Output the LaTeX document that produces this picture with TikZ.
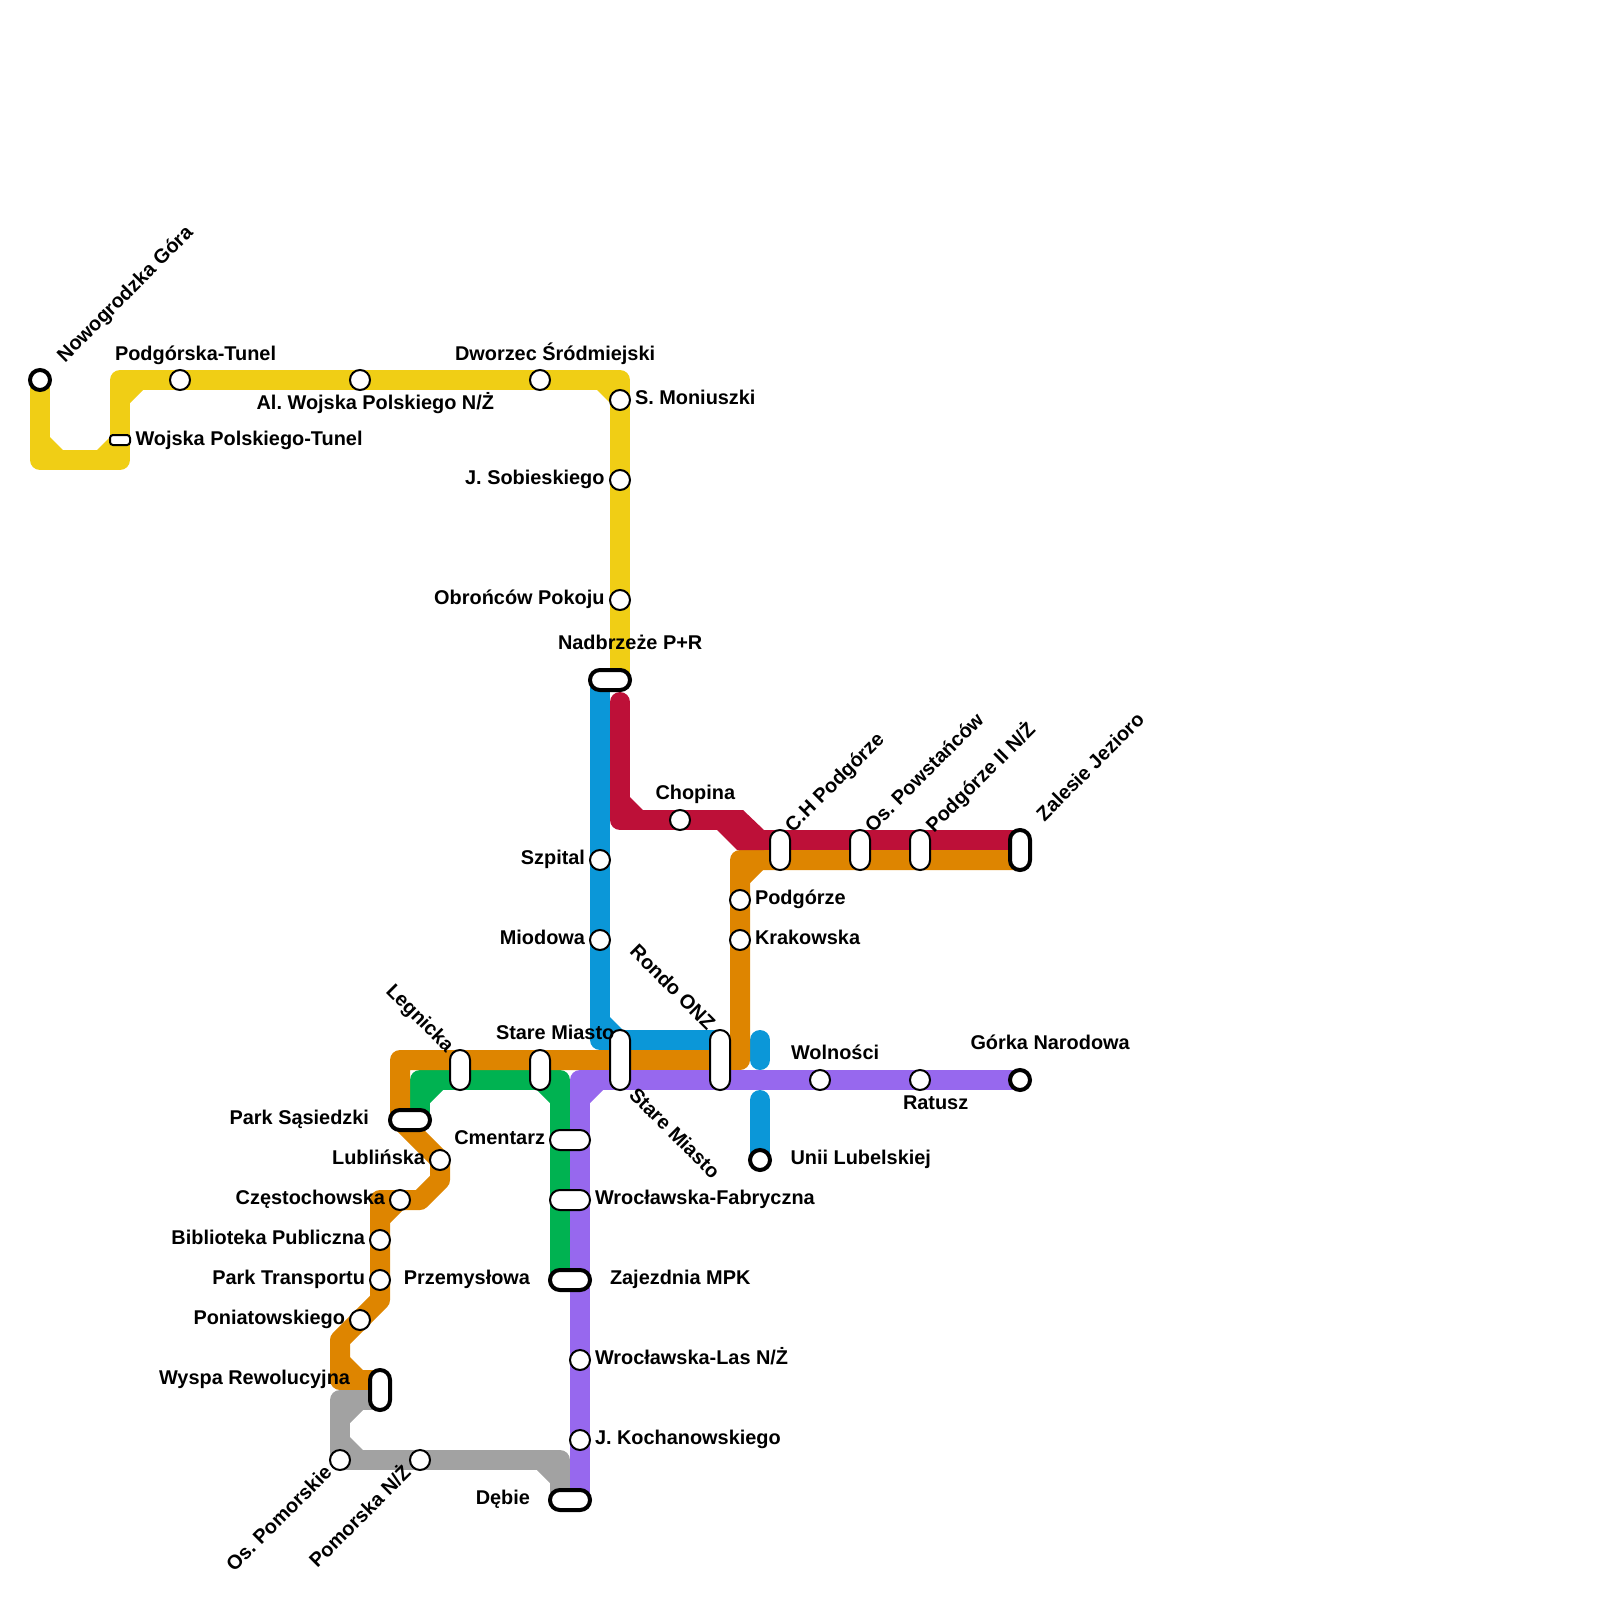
\documentclass[tikz,border=0pt]{standalone}
\usepackage{fontspec}
\setmainfont{Liberation Sans}
\definecolor{cyel}{HTML}{F0CE15}
\definecolor{cblu}{HTML}{0B97D8}
\definecolor{cgrn}{HTML}{00B251}
\definecolor{cora}{HTML}{DE8500}
\definecolor{cred}{HTML}{BD1038}
\definecolor{cgry}{HTML}{A2A2A2}
\definecolor{cpur}{HTML}{9768EE}
\tikzset{
  ln/.style={line width=20pt,line join=round,line cap=butt},
  stn/.style={circle,draw=black,fill=white,line width=2pt,minimum size=20pt,inner sep=0pt,outer sep=0pt},
  term/.style={stn,line width=4pt},
  capv/.style={rectangle,draw=black,fill=white,line width=2pt,minimum width=20pt,minimum height=#1,inner sep=0pt,outer sep=0pt,rounded corners=9.9pt},
  caph/.style={rectangle,draw=black,fill=white,line width=2pt,minimum height=20pt,minimum width=#1,inner sep=0pt,outer sep=0pt,rounded corners=9.9pt},
  tcapv/.style={capv=#1,line width=4pt},
  tcaph/.style={caph=#1,line width=4pt},
  tun/.style={rectangle,draw=black,fill=white,line width=2pt,minimum width=20pt,minimum height=10pt,inner sep=0pt,outer sep=0pt,rounded corners=3pt},
  lab/.style={font=\fontsize{19.9}{20}\selectfont\bfseries\frenchspacing,text=black,inner sep=0pt,outer sep=0pt},
  lw/.style={lab,anchor=base west},
  le/.style={lab,anchor=base east},
}
\begin{document}
\begin{tikzpicture}[x=1pt,y=-1pt]
\useasboundingbox (0,0) rectangle (1600,1600);
% station positions
\coordinate (pNow) at (40,380);
\coordinate (pWoj) at (120,440);
\coordinate (pPod) at (180,380);
\coordinate (pAlw) at (360,380);
\coordinate (pDwo) at (540,380);
\coordinate (pMon) at (620,400);
\coordinate (pSob) at (620,480);
\coordinate (pObr) at (620,600);
\coordinate (pNad) at (610,680);
\coordinate (pSzp) at (600,860);
\coordinate (pMio) at (600,940);
\coordinate (pCho) at (680,820);
\coordinate (pCHP) at (780,850);
\coordinate (pPow) at (860,850);
\coordinate (pPII) at (920,850);
\coordinate (pZal) at (1020,850);
\coordinate (pPdg) at (740,900);
\coordinate (pKra) at (740,940);
\coordinate (pOnz) at (720,1060);
\coordinate (pStA) at (620,1060);
\coordinate (pStB) at (540,1070);
\coordinate (pLeg) at (460,1070);
\coordinate (pPar) at (410,1120);
\coordinate (pLub) at (440,1160);
\coordinate (pCze) at (400,1200);
\coordinate (pBib) at (380,1240);
\coordinate (pTra) at (380,1280);
\coordinate (pPon) at (360,1320);
\coordinate (pWys) at (380,1390);
\coordinate (pOsP) at (340,1460);
\coordinate (pPom) at (420,1460);
\coordinate (pDeb) at (570,1500);
\coordinate (pKoc) at (580,1440);
\coordinate (pLas) at (580,1360);
\coordinate (pZaj) at (570,1280);
\coordinate (pFab) at (570,1200);
\coordinate (pCme) at (570,1140);
\coordinate (pWol) at (820,1080);
\coordinate (pRat) at (920,1080);
\coordinate (pGor) at (1020,1080);
\coordinate (pUni) at (760,1160);
% line free ends and corners
\coordinate (yA) at (40,460);
\coordinate (yB) at (120,460);
\coordinate (yC) at (120,380);
\coordinate (yD) at (620,380);
\coordinate (yE) at (620,680);
\coordinate (bA) at (600,680);
\coordinate (bB) at (600,1040);
\coordinate (bC) at (720,1040);
\coordinate (bD) at (760,1040);
\coordinate (bE) at (760,1060);
\coordinate (bF) at (760,1100);
\coordinate (gA) at (420,1120);
\coordinate (gB) at (420,1080);
\coordinate (gC) at (560,1080);
\coordinate (gD) at (560,1280);
\coordinate (oA) at (400,1120);
\coordinate (oB) at (400,1060);
\coordinate (oC) at (740,1060);
\coordinate (oD) at (740,860);
\coordinate (oE) at (1020,860);
\coordinate (oF) at (440,1180);
\coordinate (oG) at (420,1200);
\coordinate (oH) at (380,1200);
\coordinate (oI) at (380,1300);
\coordinate (oJ) at (340,1340);
\coordinate (oK) at (340,1380);
\coordinate (oL) at (380,1380);
\coordinate (rA) at (620,702);
\coordinate (rAb) at (620,703);
\coordinate (rB) at (620,820);
\coordinate (rC) at (730,820);
\coordinate (rD) at (750,840);
\coordinate (rE) at (1020,840);
\coordinate (aA) at (380,1400);
\coordinate (aB) at (340,1400);
\coordinate (aC) at (340,1460);
\coordinate (aD) at (560,1460);
\coordinate (aE) at (560,1500);
\coordinate (uA) at (580,1080);
\coordinate (uB) at (580,1500);
% yellow
\draw[ln,cyel] (pNow) -- (yA) -- (yB) -- (yC) -- (pPod) -- (pAlw) -- (pDwo) -- (yD) -- (pMon) -- (pSob) -- (pObr) -- (yE);
\fill[cyel] (50,437) -- (63,450) -- (50,450) -- cycle
 (97,450) -- (110,437) -- (110,450) -- cycle
 (130,390) -- (143,390) -- (130,403) -- cycle
 (597,390) -- (610,403) -- (610,390) -- cycle;
% blue
\draw[ln,cblu] (bA) -- (pSzp) -- (pMio) -- (bB) -- (bC);
\fill[cblu] (610,1017) -- (623,1030) -- (610,1030) -- cycle;
\draw[ln,cblu,line cap=round] (bD) -- (bE);
\draw[ln,cblu,line cap=round] (bF) -- (pUni);
% green
\draw[ln,cgrn] (gA) -- (gB) -- (gC) -- (gD);
\fill[cgrn] (430,1090) -- (443,1090) -- (430,1103) -- cycle
 (537,1090) -- (550,1103) -- (550,1090) -- cycle;
% orange
\draw[ln,cora] (oE) -- (oD) -- (oC) -- (oB) -- (oA) -- (pLub) -- (oF) -- (oG) -- (oH) -- (oI) -- (oJ) -- (oK) -- (oL);
\fill[cora] (750,870) -- (763,870) -- (750,883) -- cycle
 (390,1210) -- (403,1210) -- (390,1223) -- cycle
 (350,1357) -- (363,1370) -- (350,1370) -- cycle;
% red
\draw[ln,cred,line cap=round] (rA) -- (rAb);
\draw[ln,cred] (rA) -- (rB) -- (rC);
\draw[ln,cred] (rD) -- (rE);
\fill[cred] (630,797) -- (643,810) -- (630,810) -- cycle;
\fill[cred] (717,830) -- (737,850) -- (764,850) -- (764,830) -- (743,810) -- (725,810) -- cycle;
% gray
\draw[ln,cgry] (aA) -- (aB) -- (aC) -- (aD) -- (aE);
\fill[cgry] (350,1410) -- (363,1410) -- (350,1423) -- cycle
 (350,1437) -- (363,1450) -- (350,1450) -- cycle
 (537,1470) -- (550,1483) -- (550,1470) -- cycle;
% purple
\draw[ln,cpur] (pGor) -- (uA) -- (uB);
\fill[cpur] (590,1090) -- (603,1090) -- (590,1103) -- cycle;
% stations
\node[term] (sNow) at (pNow) {};
\node[tun] (sWoj) at (pWoj) {};
\node[stn] (sPod) at (pPod) {};
\node[stn] (sAlw) at (pAlw) {};
\node[stn] (sDwo) at (pDwo) {};
\node[stn] (sMon) at (pMon) {};
\node[stn] (sSob) at (pSob) {};
\node[stn] (sObr) at (pObr) {};
\node[tcaph=40pt] (sNad) at (pNad) {};
\node[stn] (sSzp) at (pSzp) {};
\node[stn] (sMio) at (pMio) {};
\node[stn] (sCho) at (pCho) {};
\node[capv=40pt] (sCHP) at (pCHP) {};
\node[capv=40pt] (sPow) at (pPow) {};
\node[capv=40pt] (sPII) at (pPII) {};
\node[tcapv=40pt] (sZal) at (pZal) {};
\node[stn] (sPdg) at (pPdg) {};
\node[stn] (sKra) at (pKra) {};
\node[capv=60pt] (sOnz) at (pOnz) {};
\node[capv=60pt] (sStA) at (pStA) {};
\node[capv=40pt] (sStB) at (pStB) {};
\node[capv=40pt] (sLeg) at (pLeg) {};
\node[tcaph=40pt] (sPar) at (pPar) {};
\node[stn] (sLub) at (pLub) {};
\node[stn] (sCze) at (pCze) {};
\node[stn] (sBib) at (pBib) {};
\node[stn] (sTra) at (pTra) {};
\node[stn] (sPon) at (pPon) {};
\node[tcapv=40pt] (sWys) at (pWys) {};
\node[stn] (sOsP) at (pOsP) {};
\node[stn] (sPom) at (pPom) {};
\node[tcaph=40pt] (sDeb) at (pDeb) {};
\node[stn] (sKoc) at (pKoc) {};
\node[stn] (sLas) at (pLas) {};
\node[tcaph=40pt] (sZaj) at (pZaj) {};
\node[caph=40pt] (sFab) at (pFab) {};
\node[caph=40pt] (sCme) at (pCme) {};
\node[stn] (sWol) at (pWol) {};
\node[stn] (sRat) at (pRat) {};
\node[term] (sGor) at (pGor) {};
\node[term] (sUni) at (pUni) {};
% labels
\node[lw,rotate=45] (tNow) at (65,363) {Nowogrodzka Góra};
\node[lw] (tPod) at (115,360) {Podgórska-Tunel};
\node[lw] (tWoj) at (135.5,445) {Wojska Polskiego-Tunel};
\node[le] (tAlw) at (494,409) {Al. Wojska Polskiego N/Ż};
\node[lw] (tDwo) at (455,360) {Dworzec Śródmiejski};
\node[lw] (tMon) at (635,404) {S. Moniuszki};
\node[le] (tSob) at (604.5,484) {J. Sobieskiego};
\node[le] (tObr) at (604.5,604) {Obrońców Pokoju};
\node[lw] (tNad) at (558,649.5) {Nadbrzeże P+R};
\node[le] (tSzp) at (585,864) {Szpital};
\node[le] (tMio) at (585,944) {Miodowa};
\node[lw] (tCho) at (655.5,799) {Chopina};
\node[lw,rotate=45] (tCHP) at (793,833) {C.H Podgórze};
\node[lw,rotate=45] (tPow) at (873,833) {Os. Powstańców};
\node[lw,rotate=45] (tPII) at (934,833) {Podgórze II N/Ż};
\node[lw,rotate=45] (tZal) at (1044.5,822) {Zalesie Jezioro};
\node[lw] (tPdg) at (755,904) {Podgórze};
\node[lw] (tKra) at (755,944) {Krakowska};
\node[le,rotate=-45] (tOnz) at (707,1031) {Rondo ONZ};
\node[le,rotate=-45] (tLeg) at (446,1053) {Legnicka};
\node[lw] (tStB) at (496,1039) {Stare Miasto};
\node[lw,rotate=-45] (tStA) at (628,1096) {Stare Miasto};
\node[le] (tPar) at (369,1124.5) {Park Sąsiedzki};
\node[le] (tLub) at (425,1164.5) {Lublińska};
\node[le] (tCme) at (545,1144.5) {Cmentarz};
\node[le] (tCze) at (385,1204.5) {Częstochowska};
\node[le] (tBib) at (365,1244.5) {Biblioteka Publiczna};
\node[le] (tTra) at (365,1284.5) {Park Transportu};
\node[le] (tPon) at (345,1324.5) {Poniatowskiego};
\node[le] (tWys) at (350,1384.5) {Wyspa Rewolucyjna};
\node[le] (tPrz) at (530,1284.5) {Przemysłowa};
\node[lw] (tZaj) at (610,1284.5) {Zajezdnia MPK};
\node[lw] (tFab) at (595,1204.5) {Wrocławska-Fabryczna};
\node[lw] (tLas) at (595,1364.5) {Wrocławska-Las N/Ż};
\node[lw] (tKoc) at (595,1444.5) {J. Kochanowskiego};
\node[le] (tDeb) at (530,1504.5) {Dębie};
\node[le,rotate=45] (tOsP) at (333,1474) {Os. Pomorskie};
\node[le,rotate=45] (tPom) at (412,1474) {Pomorska N/Ż};
\node[lw] (tWol) at (791,1059) {Wolności};
\node[lw] (tRat) at (903,1109) {Ratusz};
\node[lw] (tGor) at (970.5,1049.5) {Górka Narodowa};
\node[lw] (tUni) at (790.5,1164.5) {Unii Lubelskiej};
\end{tikzpicture}
\end{document}
